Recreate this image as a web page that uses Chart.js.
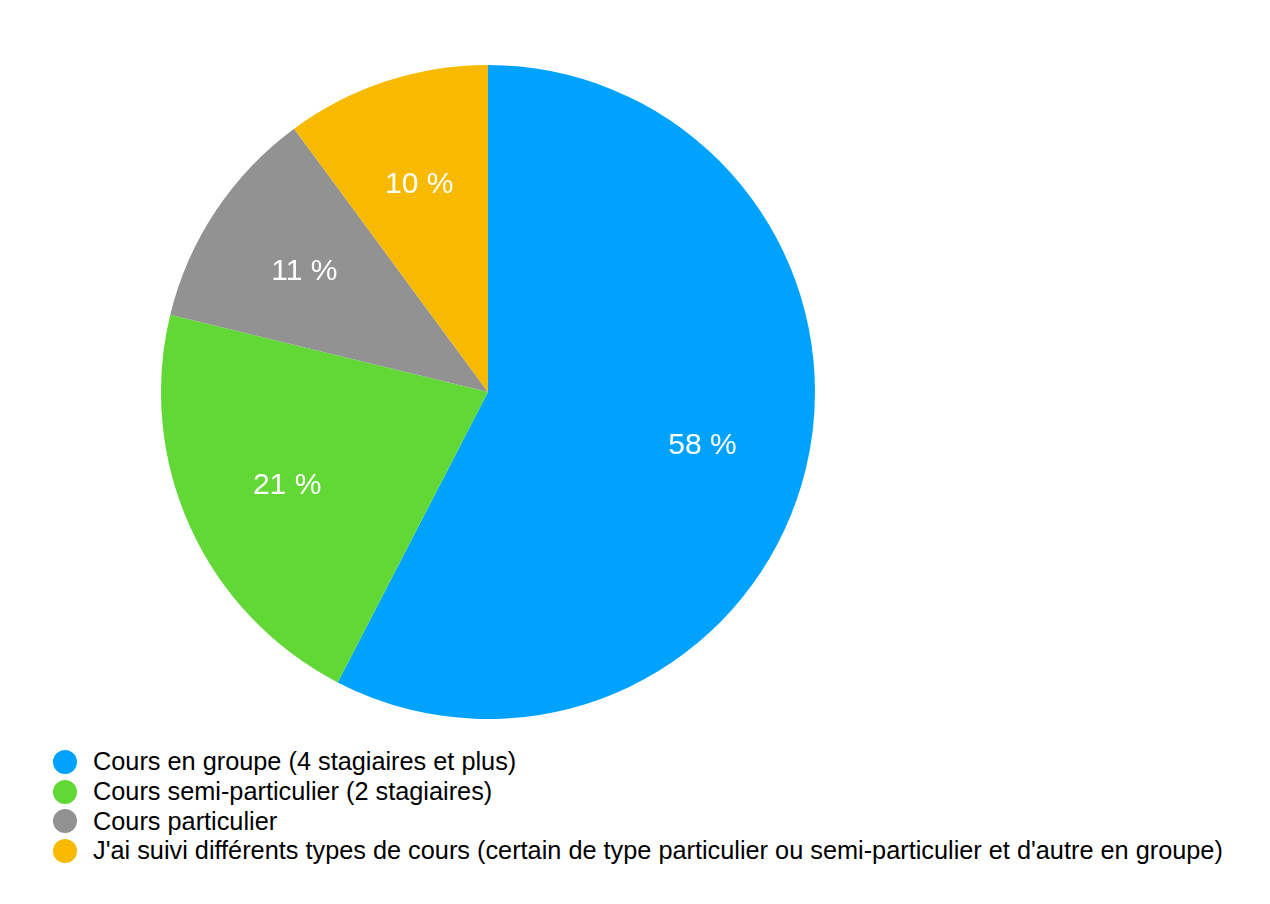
<!DOCTYPE html>
<html lang="fr">
<head>
    <meta charset="UTF-8">
    <title>Types de cours</title>
    <script src="https://cdn.jsdelivr.net/npm/chart.js"></script>
    <style>
        body { margin: 0; background: #fff; width: 1270px; height: 904px; position: relative; overflow: hidden; }
        #pieBox { position: absolute; left: 161px; top: 65px; width: 654px; height: 654px; }
        #legend { position: absolute; left: 53px; top: 747px; font-family: "Liberation Sans", Arial, Helvetica, sans-serif; font-size: 25.3px; color: #000; }
        .item { display: flex; align-items: center; height: 29.7px; white-space: nowrap; }
        .dot { width: 24px; height: 24px; border-radius: 50%; margin-right: 16px; flex: none; }
    </style>
</head>
<body>
    <div id="pieBox"><canvas id="pieChart"></canvas></div>
    <div id="legend"></div>

    <script>
        const categories = [
            'Cours en groupe (4 stagiaires et plus)',
            'Cours semi-particulier (2 stagiaires)',
            'Cours particulier',
            "J'ai suivi différents types de cours (certain de type particulier ou semi-particulier et d'autre en groupe)"
        ];
        // slice sizes as measured on the picture, and the rounded labels printed on them
        const shares = [57.6, 21.2, 11.1, 10.1];
        const shareLabels = ['58 %', '21 %', '11 %', '10 %'];
        const sliceColors = ['#00A2FF', '#61D836', '#929292', '#F8BA00'];

        // white percentage labels at ~2/3 of the radius
        const sliceLabels = {
            id: 'sliceLabels',
            afterDatasetsDraw(chart) {
                const ctx = chart.ctx;
                const meta = chart.getDatasetMeta(0);
                ctx.save();
                ctx.fillStyle = '#fff';
                ctx.font = '30px "Liberation Sans", Arial, Helvetica, sans-serif';
                ctx.textAlign = 'center';
                ctx.textBaseline = 'middle';
                meta.data.forEach((arc, i) => {
                    const p = arc.getProps(['x', 'y', 'startAngle', 'endAngle', 'outerRadius'], true);
                    const mid = (p.startAngle + p.endAngle) / 2;
                    const r = p.outerRadius * 0.675;
                    ctx.fillText(shareLabels[i], p.x + Math.cos(mid) * r, p.y + Math.sin(mid) * r + 2);
                });
                ctx.restore();
            }
        };

        new Chart(document.getElementById('pieChart'), {
            type: 'pie',
            data: {
                labels: categories,
                datasets: [{
                    data: shares,
                    backgroundColor: sliceColors,
                    borderWidth: 0
                }]
            },
            options: {
                responsive: true,
                maintainAspectRatio: false,
                animation: false,
                layout: { padding: 0 },
                plugins: {
                    legend: { display: false },
                    tooltip: { enabled: false }
                }
            },
            plugins: [sliceLabels]
        });

        // legend below the pie
        const legend = document.getElementById('legend');
        categories.forEach((name, i) => {
            const row = document.createElement('div');
            row.className = 'item';
            const dot = document.createElement('span');
            dot.className = 'dot';
            dot.style.background = sliceColors[i];
            const txt = document.createElement('span');
            txt.textContent = name;
            row.appendChild(dot);
            row.appendChild(txt);
            legend.appendChild(row);
        });
    </script>
</body>
</html>
